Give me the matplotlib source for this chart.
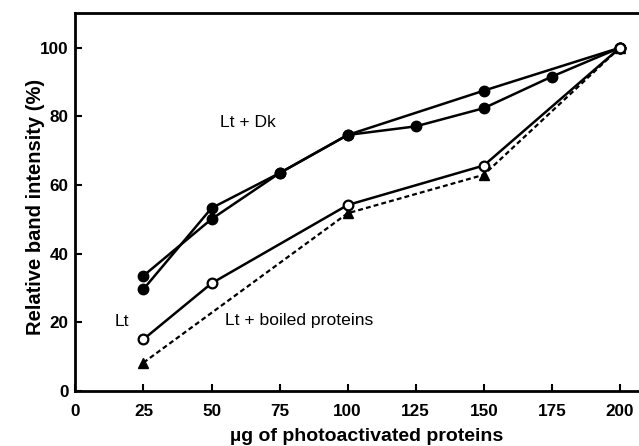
import matplotlib
matplotlib.use("Agg")
import matplotlib.pyplot as plt

plt.rcParams['font.family'] = ['Liberation Sans', 'DejaVu Sans']

# Lt + Dk (two replicate curves, filled circles)
dk1_x = [25, 50, 75, 100, 150, 200]
dk1_y = [33.6, 50.1, 63.5, 74.6, 87.5, 100]
dk2_x = [25, 50, 75, 100, 125, 150, 175, 200]
dk2_y = [29.7, 53.3, 63.5, 74.6, 77.1, 82.4, 91.6, 100]

# Lt alone (open circles)
lt_x = [25, 50, 100, 150, 200]
lt_y = [15.1, 31.4, 54.2, 65.7, 100]

# Lt + boiled proteins (triangles, dashed)
boil_x = [25, 100, 150, 200]
boil_y = [8.3, 51.8, 63.0, 100]

xticks = [0, 25, 50, 75, 100, 125, 150, 175, 200]
yticks = [0, 20, 40, 60, 80, 100]

fig = plt.figure(figsize=(6.39, 4.46), dpi=100)
ax = fig.add_axes([0.118, 0.123, 0.882, 0.847])

ax.plot(boil_x, boil_y, color='black', lw=1.6, ls=(0, (2.2, 1.4)),
        marker='^', ms=7, mfc='black', mec='black', zorder=2)
ax.plot(lt_x, lt_y, color='black', lw=1.8, marker='o', ms=7,
        mfc='white', mec='black', mew=1.6, zorder=3)
ax.plot(dk1_x, dk1_y, color='black', lw=1.8, marker='o', ms=7.5,
        mfc='black', mec='black', zorder=3)
ax.plot(dk2_x, dk2_y, color='black', lw=1.8, marker='o', ms=7.5,
        mfc='black', mec='black', zorder=3)
# open circle at 200 sits on top
ax.plot(lt_x[-1:], lt_y[-1:], ls='none', marker='o', ms=7,
        mfc='white', mec='black', mew=1.6, zorder=4)

ax.text(63.5, 78.2, 'Lt + Dk', fontsize=12.6, ha='center', va='center')
ax.text(17, 20.2, 'Lt', fontsize=12.6, ha='center', va='center')
ax.text(55, 20.5, 'Lt + boiled proteins', fontsize=12.6, ha='left', va='center')

ax.set_xlim(0, 207)
ax.set_ylim(0, 110)
ax.set_xticks(xticks)
ax.set_yticks(yticks)
ax.tick_params(direction='in', length=5, width=1.5, labelsize=12.3)
ax.tick_params(axis='x', pad=9)
ax.tick_params(axis='y', pad=5)
for lab in ax.get_xticklabels() + ax.get_yticklabels():
    lab.set_fontweight('bold')

for s in ['left', 'bottom', 'top']:
    ax.spines[s].set_linewidth(2)
ax.spines['right'].set_visible(False)

ax.set_xlabel('µg of photoactivated proteins', fontsize=14, fontweight='bold', va='center')
ax.set_ylabel('Relative band intensity (%)', fontsize=14.5, fontweight='bold', va='center')
ax.xaxis.set_label_coords(0.517, -0.121)
ax.yaxis.set_label_coords(-0.071, 0.487)

fig.savefig('out.png', dpi=100)
